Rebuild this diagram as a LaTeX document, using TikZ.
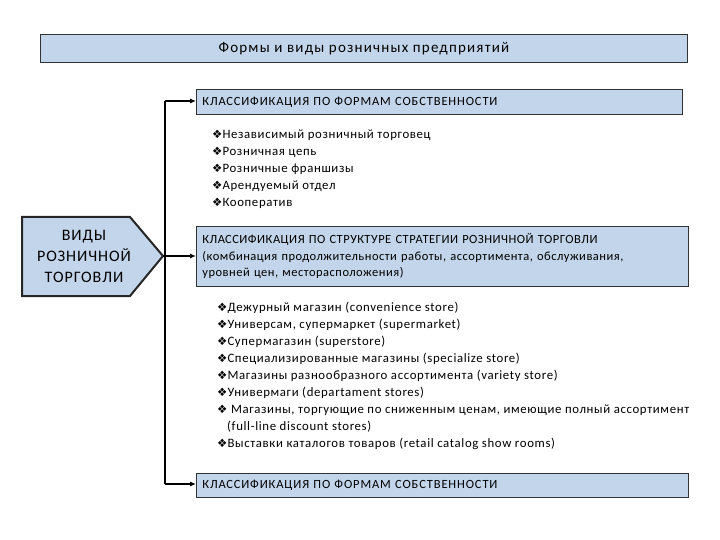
\documentclass[tikz,border=0pt]{standalone}
\usepackage{fontspec}
\setmainfont{Carlito}[LetterSpace=5]
\newfontfamily\symf{DejaVu Sans}
\usetikzlibrary{arrows.meta}
\definecolor{boxblue}{HTML}{C3D5EA}
\newcommand{\bul}{{\symf\fontsize{11.5}{10}\selectfont ❖}}
\tikzset{
  blbox/.style={draw=black!80, fill=boxblue, line width=0.8pt},
  lab/.style={anchor=west, font=\fontsize{12.8}{17}\selectfont, align=left, inner sep=0pt},
  conn/.style={line width=1.1pt, -{Latex[length=6pt,width=5pt]}},
  wire/.style={line width=1.1pt}
}
\begin{document}
\begin{tikzpicture}[x=1pt,y=-1pt]
\useasboundingbox (0,0) rectangle (720,540);
\node[blbox, minimum width=647pt, minimum height=28pt, anchor=north west, font=\fontsize{15}{17}\selectfont\addfontfeatures{LetterSpace=8}] (title) at (40,34) {Формы и виды розничных предприятий};
\node[blbox, minimum width=484pt, minimum height=25pt, anchor=north west, text width=474pt, align=left, font=\fontsize{12.5}{14}\selectfont\addfontfeatures{LetterSpace=7}, inner xsep=6pt] (b1) at (196,89) {КЛАССИФИКАЦИЯ ПО ФОРМАМ СОБСТВЕННОСТИ};
\node[blbox, minimum width=492pt, minimum height=60pt, anchor=north west, text width=480pt, align=left, font=\fontsize{12.5}{16.5}\selectfont\addfontfeatures{LetterSpace=4}, inner xsep=6pt] (b2) at (196,226) {КЛАССИФИКАЦИЯ ПО СТРУКТУРЕ СТРАТЕГИИ РОЗНИЧНОЙ ТОРГОВЛИ\\(комбинация продолжительности работы, ассортимента, обслуживания,\\уровней цен, месторасположения)};
\node[blbox, minimum width=492pt, minimum height=24pt, anchor=north west, text width=480pt, align=left, font=\fontsize{12.5}{14}\selectfont\addfontfeatures{LetterSpace=7}, inner xsep=6pt] (b3) at (196,473) {КЛАССИФИКАЦИЯ ПО ФОРМАМ СОБСТВЕННОСТИ};
\draw[blbox, line width=2pt, draw=black!85] (22,217) -- (130,217) -- (163,256) -- (130,296) -- (22,296) -- cycle;
\node[font=\fontsize{16}{21}\selectfont\addfontfeatures{LetterSpace=6}, align=center] (vid) at (84,256) {ВИДЫ\\РОЗНИЧНОЙ\\ТОРГОВЛИ};
\coordinate (tip) at (163,256);
\coordinate (top) at (165,101);
\coordinate (bot) at (165,484);
\draw[wire] (top) -- (bot);
\draw[conn] (top) -- (b1.west |- top);
\draw[conn] (tip) -- (b2.west |- tip);
\draw[conn] (bot) -- (b3.west |- bot);
\node[lab] (l1) at (212,169) {\bul Независимый розничный торговец\\\bul Розничная цепь\\\bul Розничные франшизы\\\bul Арендуемый отдел\\\bul Кооператив};
\node[lab, anchor=north west] (l2) at (217,302) {\bul Дежурный магазин (convenience store)\\\bul Универсам, супермаркет (supermarket)\\\bul Супермагазин (superstore)\\\bul Специализированные магазины (specialize store)\\\bul Магазины разнообразного ассортимента (variety store)\\\bul Универмаги (departament stores)\\\bul{} Магазины, торгующие по сниженным ценам, имеющие полный ассортимент\\\hspace*{10pt}(full-line discount stores)\\\bul Выставки каталогов товаров (retail catalog show rooms)};
\end{tikzpicture}
\end{document}
